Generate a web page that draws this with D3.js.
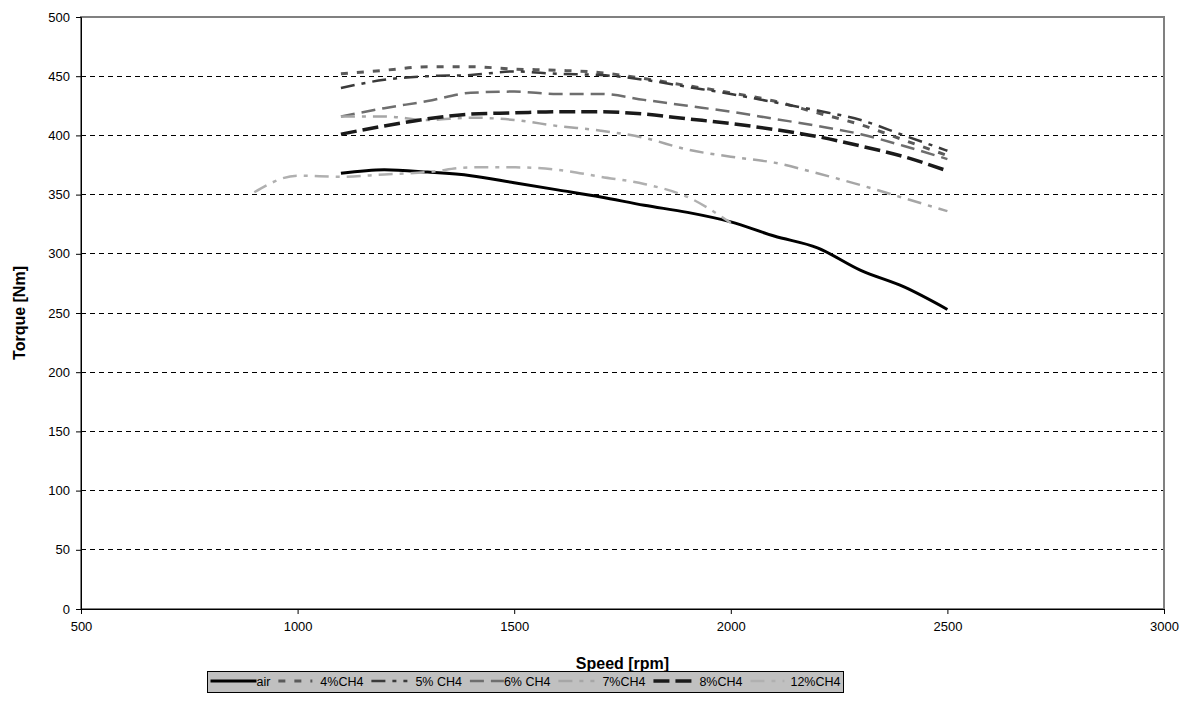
<!DOCTYPE html>
<html><head><meta charset="utf-8">
<script src="https://cdn.jsdelivr.net/npm/d3@7"></script>
<style>body{margin:0;background:#fff}svg{display:block}text{font-family:"Liberation Sans",Arial,sans-serif}</style>
</head><body>
<svg id="c" width="1192" height="722"></svg>
<script>
const speeds = [1100,1200,1300,1400,1500,1600,1700,1800,1900,2000,2100,2200,2300,2400,2500];
const speeds12 = [900,1000,1100,1200,1300,1400,1500,1600,1700,1800,1900,2000];
const air   = [368,371,369,366,360,354,348,341,335,327,315,305,286,272,253];
const ch4_4 = [452,455,458,458,456,455,453,448,442,436,429,419,409,396,383];
const ch4_5 = [440,447,450,451,454,452,451,447,441,435,428,421,413,400,387];
const ch4_6 = [416,423,429,436,437,435,435,430,425,420,414,408,401,391,380];
const ch4_7 = [416,416,413,415,413,408,404,398,388,382,377,368,358,347,336];
const ch4_8 = [401,408,414,418,419,420,420,418,414,410,405,399,391,382,370];
const ch4_12 = [352,366,365,367,369,373,373,371,365,359,348,326];
const seriesNames = ["air","4%CH4","5% CH4","6% CH4","7%CH4","8%CH4","12%CH4"];
const xTicks = [500,1000,1500,2000,2500,3000];
const yTicks = [0,50,100,150,200,250,300,350,400,450,500];

const styles = [
  {color:"#000000", w:3,   dash:null},
  {color:"#5a5a5a", w:3,   dash:"7,9"},
  {color:"#3a3a3a", w:2.5, dash:"14,7,4,7"},
  {color:"#6e6e6e", w:2.5, dash:"14,7"},
  {color:"#a6a6a6", w:2.5, dash:"14,7,4,7"},
  {color:"#1a1a1a", w:3.5, dash:"16,6"},
  {color:"#b0b0b0", w:2.5, dash:"14,7,4,7"}
];
const data = [
  speeds.map((s,i)=>[s,air[i]]),
  speeds.map((s,i)=>[s,ch4_4[i]]),
  speeds.map((s,i)=>[s,ch4_5[i]]),
  speeds.map((s,i)=>[s,ch4_6[i]]),
  speeds.map((s,i)=>[s,ch4_7[i]]),
  speeds.map((s,i)=>[s,ch4_8[i]]),
  speeds12.map((s,i)=>[s,ch4_12[i]])
];

const svg = d3.select("#c");
const L=81, R=1164, T=17, B=609;
const x = d3.scaleLinear().domain([500,3000]).range([L,R]);
const y = d3.scaleLinear().domain([0,500]).range([B,T]);

// gridlines
svg.append("g").selectAll("line").data(yTicks.filter(v=>v>0 && v<500)).join("line")
  .attr("x1",L).attr("x2",R).attr("y1",d=>y(d)).attr("y2",d=>y(d))
  .attr("stroke","#000").attr("stroke-width",1).attr("stroke-dasharray","5,4").attr("shape-rendering","crispEdges");

// border
svg.append("rect").attr("x",L).attr("y",T).attr("width",R-L).attr("height",B-T)
  .attr("fill","none").attr("stroke","#808080").attr("stroke-width",1.5).attr("shape-rendering","crispEdges");

// axes
const ax = svg.append("g").attr("transform",`translate(0,${B})`)
  .call(d3.axisBottom(x).tickValues(xTicks).tickSize(5).tickPadding(8).tickFormat(d3.format("d")));
const ay = svg.append("g").attr("transform",`translate(${L},0)`)
  .call(d3.axisLeft(y).tickValues(yTicks).tickSize(5).tickPadding(6).tickFormat(d3.format("d")));
[ax,ay].forEach(a=>{
  a.select(".domain").attr("stroke","#000");
  a.selectAll(".tick line").attr("stroke","#000");
  a.selectAll("text").attr("font-size",13).attr("fill","#000").style("font-family","'Liberation Sans',Arial,sans-serif");
});

// lines
const line = d3.line().x(d=>x(d[0])).y(d=>y(d[1])).curve(d3.curveMonotoneX);
svg.append("g").selectAll("path").data(data).join("path")
  .attr("d",line).attr("fill","none")
  .attr("stroke",(d,i)=>styles[i].color).attr("stroke-width",(d,i)=>styles[i].w)
  .attr("stroke-dasharray",(d,i)=>styles[i].dash).attr("stroke-linejoin","round");

// axis titles
svg.append("text").attr("x",(L+R)/2).attr("y",669).attr("text-anchor","middle")
  .attr("font-size",16).attr("font-weight","bold").text("Speed [rpm]");
svg.append("text").attr("transform",`translate(25,${(T+B)/2}) rotate(-90)`).attr("text-anchor","middle")
  .attr("font-size",16).attr("font-weight","bold").text("Torque [Nm]");

// legend
const LX0=207.5, LX1=843.5;
const lg = svg.append("g");
lg.append("rect").attr("x",LX0).attr("y",671.5).attr("width",LX1-LX0).attr("height",21)
  .attr("fill","#c0c0c0").attr("stroke","#000").attr("stroke-width",1);
const sampleW=[46,34,36,34,36,38,34];
const gapAfter=[0,8,8,0,8,8,6];
// measure texts
const items = seriesNames.map((n,i)=>{
  const t = lg.append("text").attr("y",686).attr("font-size",12.5).text(n);
  return {t, w:t.node().getComputedTextLength()};
});
const used = items.reduce((s,it,i)=>s+sampleW[i]+gapAfter[i]+it.w,0);
const pad = (LX1-LX0-6-used)/6;
let cx = LX0+3;
items.forEach((it,i)=>{
  const st = styles[i];
  lg.append("line").attr("x1",cx).attr("x2",cx+sampleW[i]).attr("y1",681).attr("y2",681)
    .attr("stroke",st.color).attr("stroke-width",st.w).attr("stroke-dasharray",st.dash);
  it.t.attr("x",cx+sampleW[i]+gapAfter[i]);
  cx = cx+sampleW[i]+gapAfter[i]+it.w+pad;
});
</script>
</body></html>
